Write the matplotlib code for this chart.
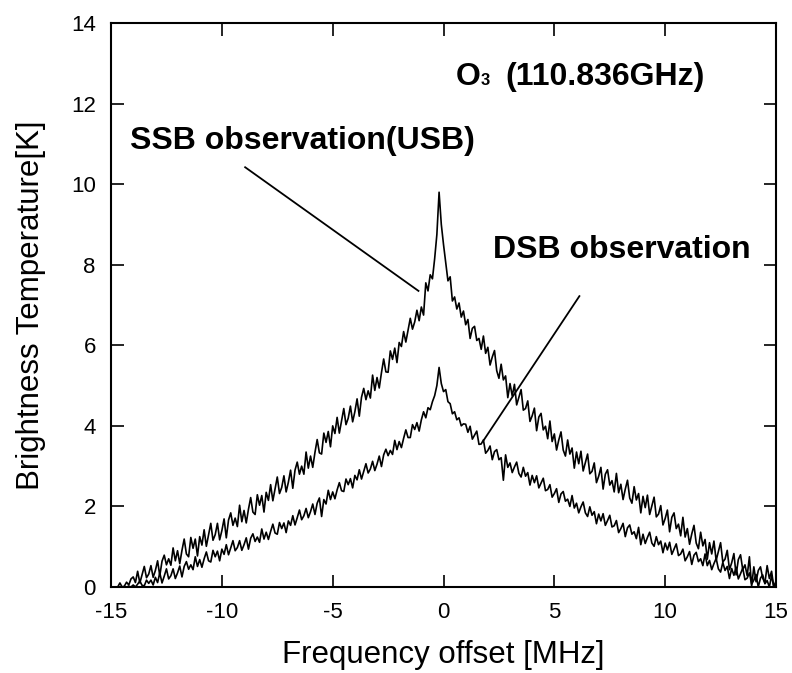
import numpy as np
import matplotlib
matplotlib.use("Agg")
import matplotlib.pyplot as plt

plt.rcParams['font.family'] = ['Liberation Sans', 'DejaVu Sans']

# frequency channels, -15 .. 15 MHz in 0.1 MHz steps
freq = np.round(np.arange(-15.0, 15.0001, 0.1), 1)

ssb = [
    0.00, 0.00, 0.00, 0.00, 0.10, 0.00, 0.02, 0.12, 0.05, 0.20,
    0.25, 0.11, 0.39, 0.10, 0.31, 0.51, 0.23, 0.32, 0.53, 0.24,
    0.41, 0.65, 0.28, 0.64, 0.79, 0.55, 0.70, 0.54, 0.97, 0.65,
    0.90, 0.58, 0.91, 1.19, 0.82, 0.75, 1.23, 0.96, 1.19, 0.77,
    1.25, 1.04, 1.42, 1.01, 1.29, 1.58, 1.16, 1.30, 1.58, 1.17,
    1.40, 1.69, 1.22, 1.66, 1.84, 1.53, 1.71, 1.50, 2.03, 1.62,
    1.90, 1.59, 1.93, 2.22, 1.86, 1.80, 2.29, 2.03, 2.27, 1.86,
    2.35, 2.15, 2.54, 2.14, 2.43, 2.73, 2.32, 2.47, 2.76, 2.36,
    2.60, 2.90, 2.45, 2.90, 3.10, 2.80, 3.00, 2.80, 3.35, 2.95,
    3.25, 2.97, 3.34, 3.66, 3.33, 3.30, 3.82, 3.59, 3.86, 3.48,
    4.00, 3.81, 4.21, 3.82, 4.12, 4.43, 4.03, 4.19, 4.49, 4.10,
    4.35, 4.67, 4.24, 4.71, 4.93, 4.65, 4.87, 4.69, 5.26, 4.88,
    5.20, 4.94, 5.32, 5.66, 5.34, 5.33, 5.86, 5.65, 5.93, 5.57,
    6.07, 5.97, 6.34, 6.08, 6.37, 6.67, 6.40, 6.58, 6.87, 6.61,
    6.95, 6.75, 7.55, 7.35, 7.75, 7.65, 8.15, 8.75, 9.80, 9.00,
    8.50, 8.05, 7.60, 7.70, 7.10, 7.20, 6.90, 7.05, 6.70, 6.85,
    6.51, 6.64, 6.17, 6.42, 6.47, 6.12, 6.17, 5.90, 6.23, 5.80,
    5.95, 5.51, 5.71, 5.87, 5.37, 5.18, 5.53, 5.14, 5.24, 4.70,
    5.05, 4.74, 5.03, 4.52, 4.71, 4.90, 4.39, 4.43, 4.62, 4.11,
    4.25, 4.44, 3.88, 4.22, 4.31, 3.90, 3.99, 3.68, 4.12, 3.61,
    3.80, 3.40, 3.65, 3.85, 3.40, 3.25, 3.65, 3.30, 3.45, 2.95,
    3.35, 3.06, 3.37, 2.88, 3.09, 3.30, 2.81, 2.87, 3.08, 2.59,
    2.75, 2.97, 2.43, 2.80, 2.91, 2.53, 2.64, 2.36, 2.82, 2.34,
    2.55, 2.17, 2.43, 2.65, 2.21, 2.08, 2.49, 2.16, 2.32, 1.84,
    2.25, 1.97, 2.28, 1.80, 2.01, 2.23, 1.74, 1.81, 2.02, 1.54,
    1.70, 1.91, 1.37, 1.73, 1.84, 1.45, 1.56, 1.27, 1.73, 1.24,
    1.45, 1.06, 1.32, 1.53, 1.09, 0.95, 1.36, 1.02, 1.18, 0.69,
    1.10, 0.82, 1.14, 0.66, 0.88, 1.10, 0.62, 0.69, 0.91, 0.43,
    0.60, 0.83, 0.30, 0.68, 0.80, 0.43, 0.55, 0.28, 0.75, 0.02,
    0.50, 0.13, 0.41, 0.50, 0.22, 0.10, 0.53, 0.21, 0.39, 0.00,
    0.15,
]

dsb = [
    0.00, 0.00, 0.00, 0.00, 0.00, 0.00, 0.00, 0.00, 0.02, 0.00,
    0.05, 0.00, 0.07, 0.15, 0.04, 0.03, 0.17, 0.09, 0.17, 0.05,
    0.24, 0.11, 0.35, 0.10, 0.27, 0.45, 0.20, 0.28, 0.45, 0.21,
    0.35, 0.52, 0.25, 0.51, 0.63, 0.44, 0.55, 0.43, 0.75, 0.51,
    0.68, 0.49, 0.70, 0.87, 0.65, 0.62, 0.91, 0.75, 0.89, 0.65,
    0.94, 0.81, 1.05, 0.80, 0.97, 1.15, 0.90, 0.98, 1.15, 0.91,
    1.05, 1.22, 0.94, 1.21, 1.32, 1.13, 1.24, 1.11, 1.44, 1.19,
    1.36, 1.18, 1.38, 1.56, 1.34, 1.31, 1.60, 1.45, 1.59, 1.35,
    1.64, 1.53, 1.77, 1.54, 1.72, 1.91, 1.67, 1.77, 1.95, 1.72,
    1.87, 2.06, 1.80, 2.08, 2.21, 1.75, 2.17, 2.06, 2.40, 2.17,
    2.36, 2.19, 2.41, 2.59, 2.39, 2.37, 2.68, 2.54, 2.69, 2.46,
    2.77, 2.66, 2.91, 2.68, 2.87, 3.06, 2.83, 2.93, 3.12, 2.89,
    3.05, 3.25, 2.99, 3.28, 3.42, 3.26, 3.39, 3.29, 3.64, 3.41,
    3.61, 3.46, 3.69, 3.90, 3.71, 3.71, 4.03, 3.91, 4.08, 3.87,
    4.15, 4.35, 4.20, 4.45, 4.40, 4.60, 4.75, 5.00, 5.45, 5.05,
    4.85, 4.90, 4.60, 4.55, 4.30, 4.35, 4.15, 4.20, 4.00, 4.05,
    4.04, 3.84, 3.99, 3.67, 3.77, 3.87, 3.54, 3.55, 3.65, 3.32,
    3.39, 3.50, 3.16, 3.36, 3.41, 3.16, 3.21, 2.65, 3.28, 2.97,
    3.08, 2.84, 2.98, 3.10, 2.82, 2.73, 2.97, 2.75, 2.84, 2.53,
    2.77, 2.59, 2.76, 2.46, 2.58, 2.70, 2.39, 2.42, 2.54, 2.23,
    2.32, 2.44, 2.10, 2.31, 2.37, 2.13, 2.18, 2.00, 2.27, 1.96,
    2.08, 1.84, 1.99, 2.11, 1.84, 1.75, 1.99, 1.78, 1.87, 1.57,
    1.81, 1.64, 1.82, 1.53, 1.65, 1.78, 1.49, 1.52, 1.65, 1.35,
    1.45, 1.58, 1.25, 1.47, 1.54, 1.31, 1.37, 1.20, 1.48, 1.05,
    1.31, 1.08, 1.23, 1.36, 1.09, 1.01, 1.25, 1.05, 1.14, 0.85,
    1.09, 0.92, 1.11, 0.81, 0.94, 1.07, 0.78, 0.82, 0.94, 0.65,
    0.75, 0.88, 0.56, 0.79, 0.86, 0.63, 0.70, 0.53, 0.82, 0.53,
    0.66, 0.43, 0.58, 0.71, 0.45, 0.37, 0.61, 0.41, 0.51, 0.21,
    0.46, 0.29, 0.49, 0.20, 0.33, 0.47, 0.18, 0.22, 0.35, 0.07,
    0.17, 0.31, 0.00, 0.22, 0.30, 0.08, 0.16, 0.00, 0.28, 0.00,
    0.06,
]

xticks = [-15, -10, -5, 0, 5, 10, 15]
yticks = [0, 2, 4, 6, 8, 10, 12, 14]

fig = plt.figure(figsize=(7.92, 6.73), dpi=100)
ax = fig.add_axes([0.1402, 0.1278, 0.8396, 0.8380])

ax.plot(freq, ssb, color='black', lw=1.2)
ax.plot(freq, dsb, color='black', lw=1.2)

ax.set_xlim(-15, 15)
ax.set_ylim(0, 14)
ax.set_xticks(xticks)
ax.set_yticks(yticks)
ax.set_xticklabels([str(t) for t in xticks])
ax.set_yticklabels([str(t) for t in yticks])
ax.tick_params(direction='in', length=9, width=1.2, top=True, right=True,
               labelsize=16, colors='black')
ax.tick_params(axis='x', pad=11)
ax.tick_params(axis='y', pad=11)
for s in ax.spines.values():
    s.set_linewidth(1.5)

ax.set_xlabel('Frequency offset [MHz]', fontsize=22.5, labelpad=12)
ax.set_ylabel('Brightness Temperature[K]', fontsize=22.5, labelpad=18)

# annotations
ax.text(-14.15, 11.07, 'SSB observation(USB)', fontsize=23, fontweight='bold',
        va='center', ha='left')
ax.plot([-8.95, -1.13], [10.42, 7.35], color='black', lw=1.3)

ax.text(2.22, 8.36, 'DSB observation', fontsize=23, fontweight='bold',
        va='center', ha='left')
ax.plot([6.13, 1.82], [7.22, 3.65], color='black', lw=1.3)

ax.text(0.57, 12.46, 'O', fontsize=23, fontweight='bold', va='baseline', ha='left')
ax.text(1.67, 12.46, '3', fontsize=12, fontweight='bold', va='baseline', ha='left')
ax.text(2.79, 12.46, '(110.836GHz)', fontsize=23, fontweight='bold',
        va='baseline', ha='left')

fig.savefig('out.png', dpi=100)
